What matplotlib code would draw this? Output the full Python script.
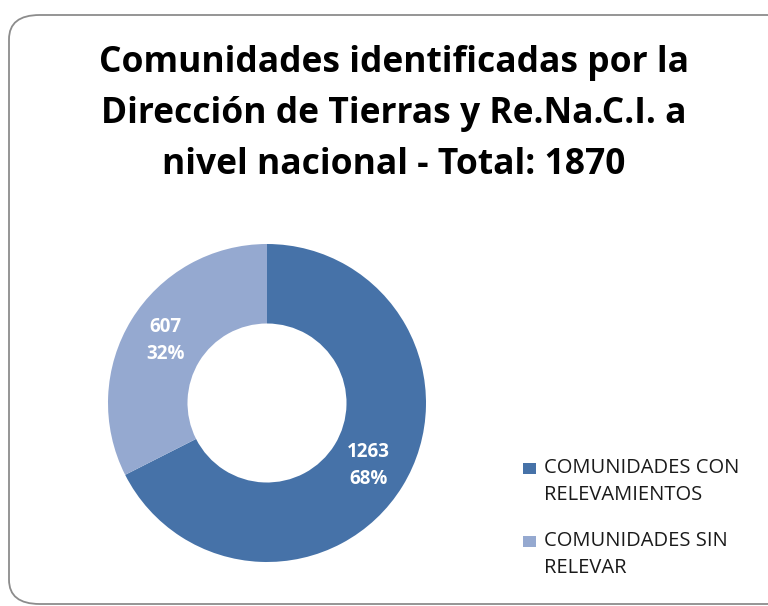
import numpy as np
import matplotlib.pyplot as plt
from matplotlib.patches import FancyBboxPatch, Rectangle

categories = ["COMUNIDADES CON\nRELEVAMIENTOS", "COMUNIDADES SIN\nRELEVAR"]
values = [1263, 607]
colors = ["#4672a8", "#95a9d0"]
title = "Comunidades identificadas por la\nDirección de Tierras y Re.Na.C.I. a\nnivel nacional - Total: 1870"

plt.rcParams['font.family'] = ['Open Sans', 'DejaVu Sans']

W, H = 768, 606
fig = plt.figure(figsize=(W / 100, H / 100), dpi=100)

# rounded frame around the chart
frame = FancyBboxPatch((9 / W, 2 / H), (W + 20) / W, (H - 17) / H,
                       boxstyle="round,pad=0,rounding_size=0.04",
                       transform=fig.transFigure, facecolor="white",
                       edgecolor="#8c8c8c", linewidth=1.3, zorder=-10)
fig.patches.append(frame)

fig.text(394 / W, 1 - 114 / H, title, ha="center", va="center",
         fontsize=25.5, fontweight="bold", linespacing=1.54)

# donut: center (267, 403) px, radius 159 px
cx, cy, r = 267, 403, 159
ax = fig.add_axes([(cx - r) / W, (H - cy - r) / H, 2 * r / W, 2 * r / H])
total = sum(values)
wedges, _ = ax.pie(values, colors=colors, startangle=90, counterclock=False,
                   radius=1, wedgeprops=dict(width=0.5, edgecolor="none"))
for w, v in zip(wedges, values):
    ang = np.deg2rad((w.theta1 + w.theta2) / 2)
    ax.text(0.75 * np.cos(ang), 0.75 * np.sin(ang),
            f"{v}\n{v / total * 100:.0f}%", ha="center", va="center",
            color="white", fontsize=13.5, fontweight="bold", linespacing=1.45)
ax.set_xlim(-1, 1)
ax.set_ylim(-1, 1)
ax.axis("off")

# legend drawn by hand so the square sits on the first text line
for i, (lab, c) in enumerate(zip(categories, colors)):
    ytop = 461 + i * 73
    fig.patches.append(Rectangle((523 / W, 1 - (ytop + 13) / H), 13 / W, 11 / H,
                                 transform=fig.transFigure, facecolor=c,
                                 edgecolor="none"))
    fig.text(544 / W, 1 - (ytop - 3) / H, lab, ha="left", va="top",
             fontsize=14.5, color="#1a1a1a", linespacing=1.48)

fig.savefig("out.png", dpi=100)
